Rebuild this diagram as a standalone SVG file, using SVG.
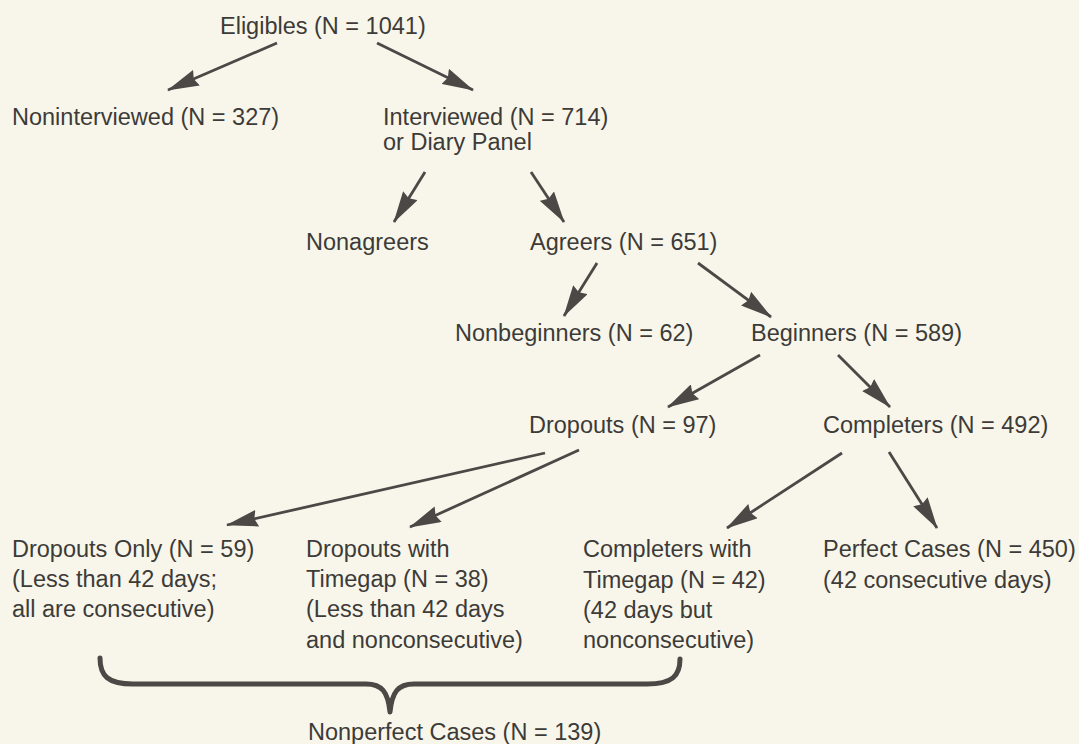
<svg xmlns="http://www.w3.org/2000/svg" width="1079" height="744" viewBox="0 0 1079 744">
  <style>
    .lbl { font-family: "Liberation Sans", Arial, Helvetica, sans-serif; font-size: 23.5px; fill: #3d3b38; }
    .conn { stroke: #4b4846; stroke-width: 2.8; fill: none; marker-end: url(#head); }
    .brace { stroke: #4b4846; stroke-width: 5; fill: none; stroke-linecap: round; stroke-linejoin: round; }
  </style>
  <defs>
    <marker id="head" markerUnits="userSpaceOnUse" viewBox="0 0 32 17" markerWidth="32" markerHeight="17" refX="31" refY="8.5" orient="auto">
      <path d="M0,0 L32,8.5 L0,17 L3,8.5 Z" fill="#4b4846"/>
    </marker>
  </defs>

  <rect x="0" y="0" width="1079" height="744" fill="#f8f6ea"/>

  <!-- connectors -->
  <g id="connectors">
    <path class="conn" d="M277,43 L168,90"/>
    <path class="conn" d="M377,43 L473,90"/>
    <path class="conn" d="M425,172 L394,222"/>
    <path class="conn" d="M531,172 L564,222"/>
    <path class="conn" d="M597,263 L564,316"/>
    <path class="conn" d="M698,263 L771,317"/>
    <path class="conn" d="M760,355 L668,407"/>
    <path class="conn" d="M838,355 L890,407"/>
    <path class="conn" d="M545,453 L227,525"/>
    <path class="conn" d="M579,450 L410,527"/>
    <path class="conn" d="M842,453 L727,528"/>
    <path class="conn" d="M889,452 L937,528"/>
    <!-- brace grouping the nonperfect outcomes -->
    <path class="brace" d="M100,658 C100,676 108,684 133,684 L366,684 C382,684 388,692 390,712 C392,692 398,684 414,684 L647,684 C672,684 680,676 680,659"/>
  </g>

  <g id="eligibles"><text class="lbl" x="220" y="34">Eligibles (N = 1041)</text></g>
  <g id="noninterviewed"><text class="lbl" x="12" y="125">Noninterviewed (N = 327)</text></g>
  <g id="interviewed">
    <text class="lbl" x="383" y="125">Interviewed (N = 714)</text>
    <text class="lbl" x="383" y="149.5">or Diary Panel</text>
  </g>
  <g id="nonagreers"><text class="lbl" x="306" y="250">Nonagreers</text></g>
  <g id="agreers"><text class="lbl" x="530" y="250">Agreers (N = 651)</text></g>
  <g id="nonbeginners"><text class="lbl" x="455" y="341">Nonbeginners (N = 62)</text></g>
  <g id="beginners"><text class="lbl" x="751" y="341">Beginners (N = 589)</text></g>
  <g id="dropouts"><text class="lbl" x="529" y="433">Dropouts (N = 97)</text></g>
  <g id="completers"><text class="lbl" x="823" y="433">Completers (N = 492)</text></g>
  <g id="dropouts-only">
    <text class="lbl" x="12" y="557">Dropouts Only (N = 59)</text>
    <text class="lbl" x="12" y="587">(Less than 42 days;</text>
    <text class="lbl" x="12" y="617">all are consecutive)</text>
  </g>
  <g id="dropouts-timegap">
    <text class="lbl" x="306" y="557">Dropouts with</text>
    <text class="lbl" x="306" y="587">Timegap (N = 38)</text>
    <text class="lbl" x="306" y="617">(Less than 42 days</text>
    <text class="lbl" x="306" y="648">and nonconsecutive)</text>
  </g>
  <g id="completers-timegap">
    <text class="lbl" x="583" y="557">Completers with</text>
    <text class="lbl" x="583" y="588">Timegap (N = 42)</text>
    <text class="lbl" x="583" y="618">(42 days but</text>
    <text class="lbl" x="583" y="648">nonconsecutive)</text>
  </g>
  <g id="perfect-cases">
    <text class="lbl" x="823" y="557">Perfect Cases (N = 450)</text>
    <text class="lbl" x="823" y="588">(42 consecutive days)</text>
  </g>
  <g id="nonperfect-cases"><text class="lbl" x="308" y="740">Nonperfect Cases (N = 139)</text></g>
</svg>
